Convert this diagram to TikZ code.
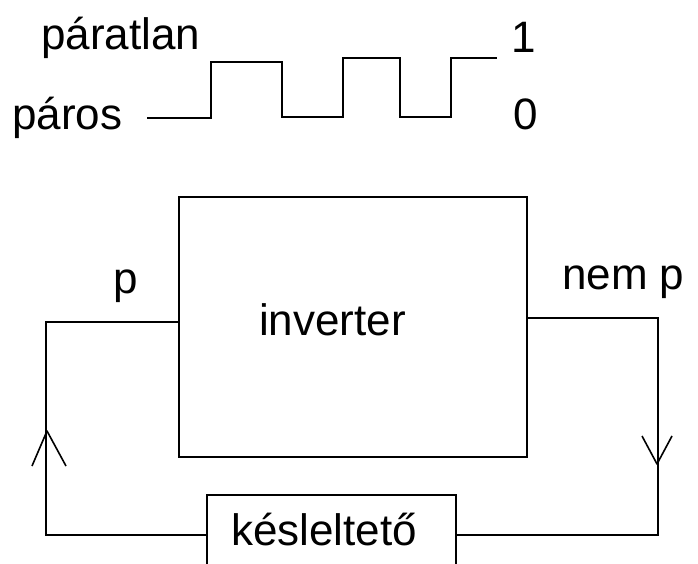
\documentclass[tikz,border=0pt]{standalone}
\usepackage{fontspec}
\setmainfont{Liberation Sans}
\usetikzlibrary{positioning}
\tikzset{blokk/.style={draw,line width=1.6pt,rectangle,inner sep=0pt}}
\tikzset{felirat/.style={anchor=base west,inner sep=0pt,font=\fontsize{44}{50}\selectfont}}
\tikzset{vezetek/.style={line width=1.6pt}}
\tikzset{jel/.style={line width=1.6pt}}

\begin{document}
\begin{tikzpicture}[x=1pt,y=-1pt]
	\clip (0,0) rectangle (698,564);

	%% Signal levels
	\node[felirat] (paratlan) at (41,50) {páratlan};
	\node[felirat] (paros) at (12,130) {páros};
	\node[felirat] (egy) at (511,53) {1};
	\node[felirat] (nulla) at (513,130) {0};
	\draw[jel] (147,118) -- (211,118) -- (211,62) -- (282,62) -- (282,117)
		-- (343,117) -- (343,58) -- (400,58) -- (400,117) -- (451,117)
		-- (451,58) -- (497,58);

	% Blocks
	\node[blokk,minimum width=348,minimum height=260] (inv) at (353,327) {};
	\node[felirat] (invszoveg) at (259,335) {inverter};
	\node[blokk,minimum width=249,minimum height=80] (kes) at (331.5,535) {};
	\node[felirat] (kesszoveg) at (231,545) {késleltető};

	% Feedback loop
	\draw[vezetek] ([yshift=5pt]inv.west) -- ++(-132,0) |- (kes.west);
	\draw[vezetek] ([yshift=9pt]inv.east) -- ++(130,0) |- (kes.east);
	\node[felirat] (p) at (113,293) {p};
	\node[felirat] (nemp) at (562,289) {nem p};

	% Direction marks
	\coordinate (baltip) at (47,431);
	\coordinate (jobbtip) at (657,464);
	\draw[vezetek,line join=round] (baltip) ++(-15,35) -- (baltip) -- ++(19,35);
	\draw[vezetek,line join=round] (jobbtip) ++(-15,-28) -- (jobbtip) -- ++(15,-28);
\end{tikzpicture}
\end{document}
